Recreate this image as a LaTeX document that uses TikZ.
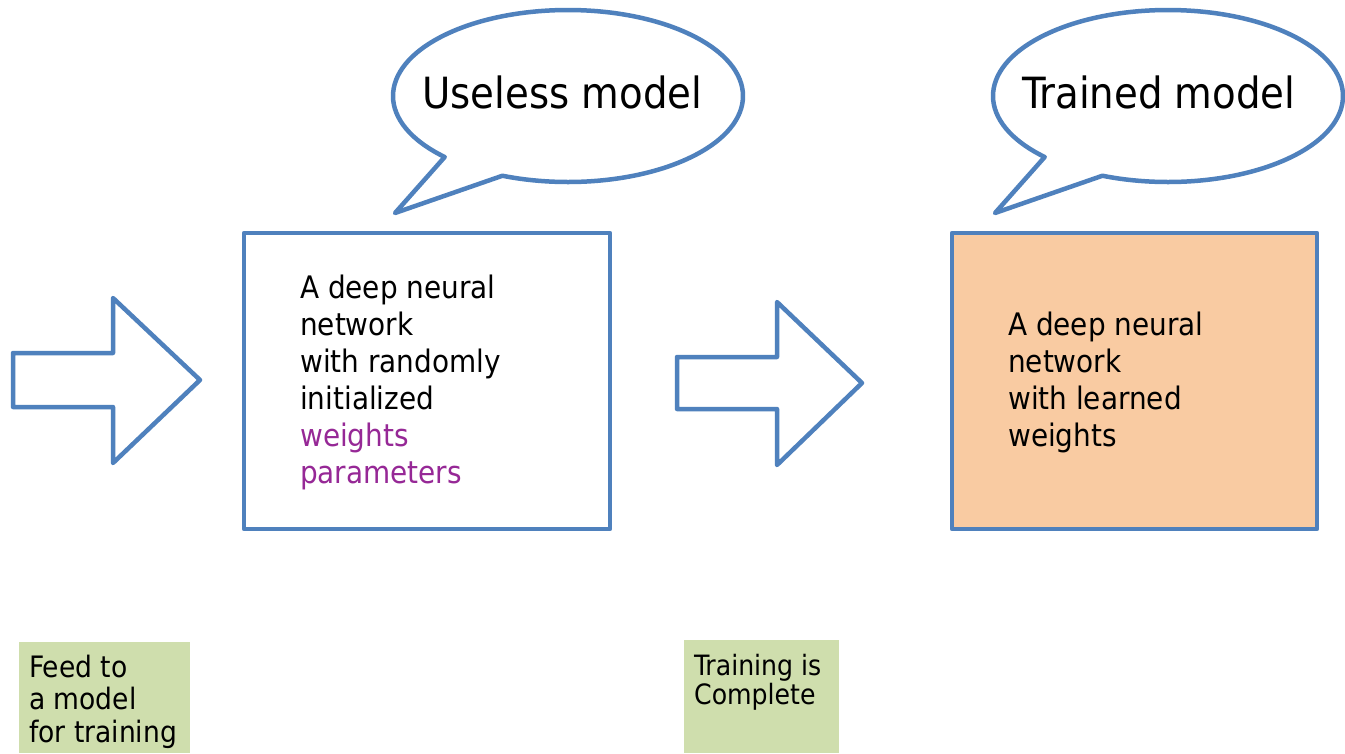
\documentclass[tikz,border=0pt]{standalone}
\usepackage{fontspec}
\setmainfont{DejaVu Sans Condensed}
\definecolor{edgeblue}{RGB}{79,129,189}
\definecolor{peach}{RGB}{249,203,162}
\definecolor{notegreen}{RGB}{207,222,173}
\definecolor{purpletext}{RGB}{150,40,150}
\tikzset{
  shapeline/.style={draw=edgeblue, line width=4.5pt, line join=round, fill=white},
  bubbletext/.style={inner sep=0pt, anchor=base west, font=\fontsize{43}{50}\selectfont},
  boxtext/.style={inner sep=0pt, anchor=base west, align=left, font=\fontsize{31}{37}\selectfont},
  notebox/.style={fill=notegreen, draw=none},
  notetext/.style={inner sep=0pt, anchor=base west, align=left},
}
\begin{document}
\begin{tikzpicture}[x=1pt,y=-1pt]
\useasboundingbox (0,0) rectangle (1345,753);
\fill[white] (0,0) rectangle (1345,753);

% speech bubbles
\path[shapeline] (568,96) ++(134.8:175 and 86)
  arc[start angle=134.8, end angle=472, x radius=175, y radius=86]
  -- (395,213) -- cycle;
\node[bubbletext] (useless) at (422,108) {Useless model};

\path[shapeline] (1168,96) ++(134.8:175 and 86)
  arc[start angle=134.8, end angle=472, x radius=175, y radius=86]
  -- (995,213) -- cycle;
\node[bubbletext] (trained) at (1022,108) {Trained model};

% block arrows
\path[shapeline] (13,353) -- (113,353) -- (113,298) -- (200,380)
  -- (113,463) -- (113,407) -- (13,407) -- cycle;
\path[shapeline] (677,357) -- (777,357) -- (777,302) -- (862,383)
  -- (777,465) -- (777,409) -- (677,409) -- cycle;

% boxes
\draw[shapeline] (244,233) rectangle (610,529);
\node[boxtext] (untrained) at (300,483) {A deep neural\\network\\with randomly\\initialized\\\textcolor{purpletext}{weights}\\\textcolor{purpletext}{parameters}};

\draw[shapeline, fill=peach] (952,233) rectangle (1317,529);
\node[boxtext] (learned) at (1008,446) {A deep neural\\network\\with learned\\weights};

% notes
\fill[notebox] (19,642) rectangle (190,753);
\node[notetext, font=\fontsize{29.5}{32.5}\selectfont] (feed) at (29,742) {Feed to\\a model\\for training};

\fill[notebox] (684,640) rectangle (839,753);
\node[notetext, font=\fontsize{28}{29}\selectfont] (complete) at (694,704) {Training is\\Complete};
\end{tikzpicture}
\end{document}
